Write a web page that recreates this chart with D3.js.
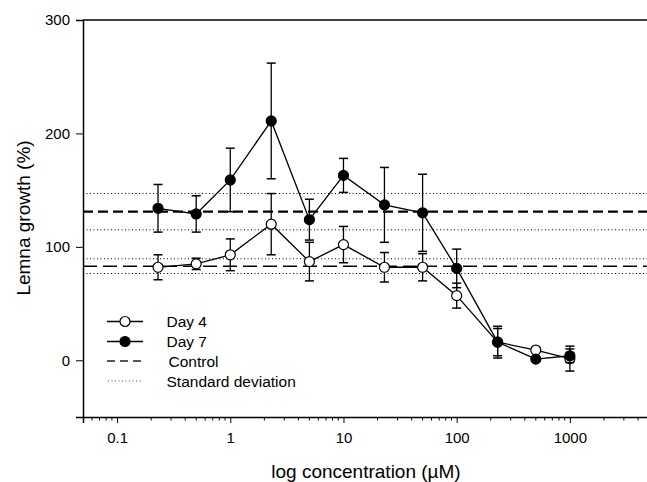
<!DOCTYPE html>
<html>
<head>
<meta charset="utf-8">
<script src="https://cdn.jsdelivr.net/npm/d3@7"></script>
<style>
  body { margin: 0; background: #fff; }
  svg { display: block; font-family: "Liberation Sans", Arial, sans-serif; }
</style>
</head>
<body>
<svg id="chart" width="647" height="482"></svg>
<script>
// concentrations (uM)
var conc = [0.23, 0.5, 1, 2.3, 5, 10, 23, 50, 100, 230, 500, 1000];
// lemna growth (%), mean and error
var day4 = [82, 85, 93, 120, 87, 102, 82, 82, 57, 16, 9, 1.5];
var day4Err = [11, 5, 14, 27, 17, 16, 13, 12, 11, 12, 2, 11];
var day7 = [134, 129, 159, 211, 124, 163, 137, 130, 81, 16, 1, 4];
var day7Err = [21, 16, 28, 51, 18, 15, 33, 34, 17, 14, 2, 6];
// control lines: [day 4, day 7]
var controlMean = [83, 131];
var controlSD = [6.5, 16];
var xTicks = [0.1, 1, 10, 100, 1000];
var yTicks = [0, 100, 200, 300];
var legendLabels = ["Day 4", "Day 7", "Control", "Standard deviation"];

var svg = d3.select("#chart");

var x = d3.scaleLog().domain([0.05, 5000]).range([83, 649]);
var y = d3.scaleLinear().domain([-50, 300]).range([417, 20]);

// minor ticks on the log axis
var minor = [];
for (var e = -2; e <= 3; e++) {
	for (var m = 2; m <= 9; m++) {
		var v = m * Math.pow(10, e);
		if (v > 0.05 && v < 5000) minor.push(v);
	}
}

// frame top line
svg.append("line")
	.attr("x1", 83).attr("x2", 649)
	.attr("y1", y(300)).attr("y2", y(300))
	.attr("stroke", "#000").attr("stroke-width", 1.5);

// control & standard deviation lines
function hline(val, dash, width, color) {
	svg.append("line")
		.attr("x1", 83).attr("x2", 649)
		.attr("y1", y(val)).attr("y2", y(val))
		.attr("stroke", color).attr("stroke-width", width)
		.attr("stroke-dasharray", dash);
}
for (var i = 0; i < controlMean.length; i++) {
	hline(controlMean[i] + controlSD[i], "1,2.5", 1, "#000");
	hline(controlMean[i] - controlSD[i], "1,2.5", 1, "#000");
}
hline(controlMean[0], "14,6", 1.5, "#000");
hline(controlMean[1], "10,5", 2.2, "#000");

// axes
var gx = svg.append("g")
	.attr("transform", "translate(0," + y(-50) + ")")
	.call(d3.axisBottom(x).tickValues(xTicks).tickFormat(d3.format("~g")).tickSize(6).tickPadding(9));
gx.append("g").selectAll("line")
	.data(minor).enter().append("line")
	.attr("x1", function(d){ return x(d); }).attr("x2", function(d){ return x(d); })
	.attr("y1", 0).attr("y2", 3.5)
	.attr("stroke", "#000");

var gy = svg.append("g")
	.attr("transform", "translate(83,0)")
	.call(d3.axisLeft(y).tickValues(yTicks).tickSize(7).tickPadding(6));

[gx, gy].forEach(function(g){
	g.select(".domain").attr("stroke-width", 1.5);
	g.selectAll("text").attr("font-size", 15).attr("fill", "#000")
		.attr("font-family", "'Liberation Sans', Arial, sans-serif");
});

svg.append("text")
	.attr("x", 366).attr("y", 478)
	.attr("text-anchor", "middle").attr("font-size", 19)
	.text("log concentration (\u00b5M)");

svg.append("text")
	.attr("transform", "translate(30,218) rotate(-90)")
	.attr("text-anchor", "middle").attr("font-size", 19)
	.text("Lemna growth (%)");

// series
var line = d3.line()
	.x(function(d){ return x(d.c); })
	.y(function(d){ return y(d.v); });

function drawSeries(vals, errs, fill) {
	var pts = conc.map(function(c, i){ return {c: c, v: vals[i], e: errs[i]}; });
	var g = svg.append("g");
	var eb = g.selectAll(".eb").data(pts).enter().append("g");
	eb.append("line")
		.attr("x1", function(d){ return x(d.c); }).attr("x2", function(d){ return x(d.c); })
		.attr("y1", function(d){ return y(d.v + d.e); }).attr("y2", function(d){ return y(d.v - d.e); })
		.attr("stroke", "#000").attr("stroke-width", 1.3);
	[1, -1].forEach(function(s){
		eb.append("line")
			.attr("x1", function(d){ return x(d.c) - 4.5; }).attr("x2", function(d){ return x(d.c) + 4.5; })
			.attr("y1", function(d){ return y(d.v + s * d.e); }).attr("y2", function(d){ return y(d.v + s * d.e); })
			.attr("stroke", "#000").attr("stroke-width", 1.5);
	});
	g.append("path")
		.datum(pts)
		.attr("fill", "none").attr("stroke", "#000").attr("stroke-width", 1.3)
		.attr("d", line);
	g.selectAll("circle").data(pts).enter().append("circle")
		.attr("cx", function(d){ return x(d.c); })
		.attr("cy", function(d){ return y(d.v); })
		.attr("r", 5)
		.attr("fill", fill).attr("stroke", "#000").attr("stroke-width", 1.2);
}
drawSeries(day4, day4Err, "#fff");
drawSeries(day7, day7Err, "#000");

// legend
var leg = svg.append("g");
var rows = [321.5, 341.5, 361, 381];
legendLabels.forEach(function(lab, i){
	var ly = rows[i];
	var l = leg.append("line")
		.attr("x1", 107).attr("x2", 143).attr("y1", ly).attr("y2", ly)
		.attr("stroke", "#000");
	if (i < 2) {
		l.attr("stroke-width", 1.5);
		leg.append("circle").attr("cx", 125).attr("cy", ly).attr("r", 5)
			.attr("fill", i === 0 ? "#fff" : "#000").attr("stroke", "#000").attr("stroke-width", 1.2);
	} else if (i === 2) {
		l.attr("stroke-width", 1.5).attr("stroke-dasharray", "8,5").attr("stroke", "#222");
	} else {
		l.attr("stroke-width", 1).attr("stroke-dasharray", "1,2.5").attr("stroke", "#444")
			.attr("x1", 108).attr("x2", 141);
	}
	leg.append("text")
		.attr("x", i === 2 ? 168.5 : 166.5).attr("y", ly + 5.5)
		.attr("font-size", 15.5)
		.text(lab);
});
</script>
</body>
</html>
